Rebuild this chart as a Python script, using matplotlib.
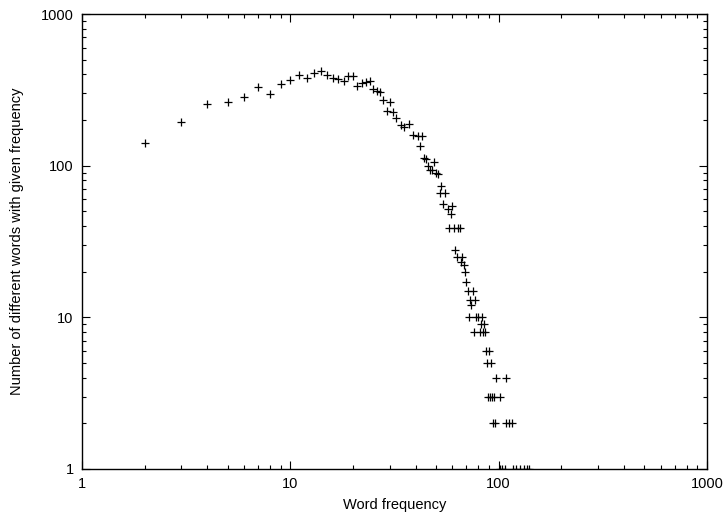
import matplotlib
matplotlib.use("Agg")
import matplotlib.pyplot as plt
from matplotlib.ticker import FixedLocator, FixedFormatter, LogLocator, NullFormatter

plt.rcParams['font.family'] = ['Liberation Sans', 'DejaVu Sans']

# word frequency -> number of different words with that frequency
freq = [2, 3, 4, 5, 6, 7, 8, 9, 10, 11, 12, 13, 14, 15, 16, 17, 18, 19, 20,
        21, 22, 23, 24, 25, 26, 27, 28, 29, 30, 31, 32, 34, 35, 37, 39, 41,
        42, 43, 44, 45, 46, 47, 48, 49, 50, 51, 52, 53, 54, 55, 57, 58, 59,
        60, 61, 62, 63, 64, 65, 66, 67, 68, 69, 70, 71, 72, 73, 74, 75, 76,
        77, 78, 80, 81, 82, 83, 84, 85, 86, 87, 88, 89, 90, 91, 92, 93, 94,
        95, 96, 97, 102, 108, 109, 112, 116,
        101, 104, 107, 117, 121, 127, 132, 137, 140]
count = [141, 194, 255, 263, 283, 330, 296, 345, 367, 396, 380, 406, 422, 398,
         380, 371, 361, 390, 390,
         336, 352, 356, 360, 321, 312, 305, 271, 230, 262, 227, 205, 186, 179,
         189, 159, 157,
         135, 157, 113, 110, 99, 94, 94, 106, 90, 88, 66, 73, 56, 66, 52, 39, 48,
         54, 39, 28, 25, 39, 39, 23, 25, 22, 20, 17, 15, 10, 13, 12, 15, 8,
         13, 10, 10, 8, 9, 10, 8, 9, 8, 6, 5, 3, 6, 3, 5, 3, 2,
         3, 2, 4, 3, 2, 4, 2, 2,
         1, 1, 1, 1, 1, 1, 1, 1, 1]

ticks = [1, 10, 100, 1000]
tick_labels = ["1", "10", "100", "1000"]

fig = plt.figure(figsize=(7.27, 5.14), dpi=100)
ax = fig.add_axes([82/727, 1-469/514, 625/727, 455/514])

ax.plot(freq, count, linestyle='none', marker='+', color='black',
        markersize=6, markeredgewidth=0.9)

ax.set_xscale('log')
ax.set_yscale('log')
ax.set_xlim(1, 1000)
ax.set_ylim(1, 1000)

for axis in (ax.xaxis, ax.yaxis):
    axis.set_major_locator(FixedLocator(ticks))
    axis.set_major_formatter(FixedFormatter(tick_labels))
    axis.set_minor_locator(LogLocator(base=10, subs=range(2, 10)))
    axis.set_minor_formatter(NullFormatter())

ax.tick_params(which='both', direction='in', top=True, right=True,
               labelsize=10.5, width=0.8)
ax.tick_params(which='major', length=6, pad=6)
ax.tick_params(which='minor', length=3)
for s in ax.spines.values():
    s.set_linewidth(1.0)

ax.set_xlabel('Word frequency', fontsize=10.5, labelpad=5)
ax.set_ylabel('Number of different words with given frequency', fontsize=10.5,
              labelpad=12)

fig.savefig('out.png', dpi=100)
